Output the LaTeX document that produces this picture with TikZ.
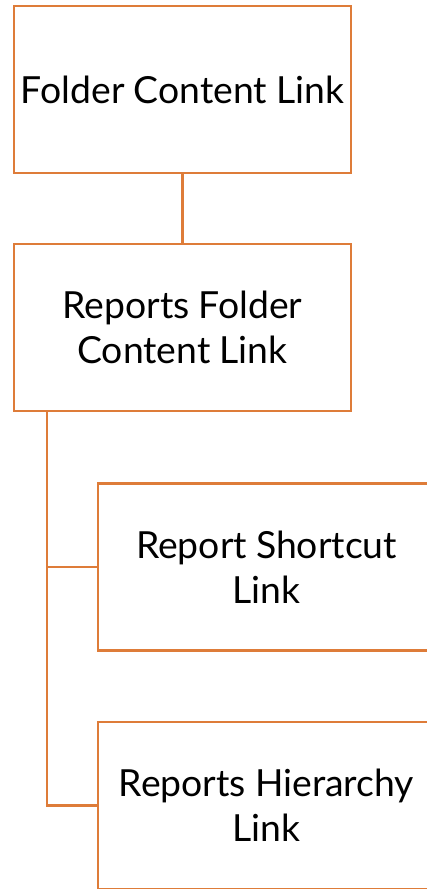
\documentclass[tikz,border=0pt]{standalone}
\usepackage{fontspec}
\setmainfont{Lato}[WordSpace=0.95]
\definecolor{boxorange}{RGB}{222,124,57}
\begin{document}
\begin{tikzpicture}[x=0.75pt,y=-0.75pt,
  box/.style={draw=boxorange,line width=1.6pt,fill=white,minimum width=252.75pt,minimum height=125.25pt,inner sep=0pt,align=center,font=\fontsize{28}{33.75}\selectfont},
  link/.style={draw=boxorange,line width=1.6pt}]
\useasboundingbox (0,0) rectangle (427,889);
\clip (0,0) rectangle (427,889);
\node[box] (b1) at (182.5,89.5) {Folder Content Link};
\node[box] (b2) at (182.5,327.5) {Reports Folder\\Content Link};
\node[box] (b3) at (266.5,567) {Report Shortcut\\Link};
\node[box] (b4) at (266.5,805.5) {Reports Hierarchy\\Link};
\draw[link] (b1.south) -- (b2.north);
\coordinate (trunk) at ([xshift=25.5pt]b2.south west);
\draw[link] (trunk) |- (b4.west);
\draw[link] (trunk |- b3.west) -- (b3.west);
\end{tikzpicture}
\end{document}
